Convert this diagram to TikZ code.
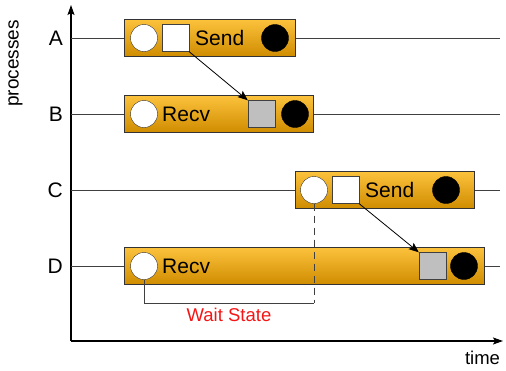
\documentclass[tikz,border=0pt]{standalone}
\usepackage{fontspec}
\setmainfont{Liberation Sans}
\usetikzlibrary{arrows.meta, positioning}
\definecolor{phasetop}{HTML}{FCC23C}
\definecolor{phasebot}{HTML}{CF8C00}
\definecolor{waitred}{HTML}{F51515}

\begin{document}
\begin{tikzpicture}[x=1pt, y=-1pt, font=\fontsize{21}{25}\selectfont,
  phase/.style={rectangle, draw=black!80, top color=phasetop, bottom color=phasebot, minimum height=37pt, inner sep=0pt, anchor=west},
  start/.style={circle, draw=black!80, fill=white, minimum size=27pt, inner sep=0pt},
  stop/.style={circle, draw=black, fill=black, minimum size=27pt, inner sep=0pt},
  msgout/.style={rectangle, draw=black!75, fill=white, minimum size=27pt, inner sep=0pt},
  msgin/.style={rectangle, draw=black!75, fill=black!25, minimum size=27pt, inner sep=0pt},
  caption/.style={anchor=west, inner sep=0pt},
  timeline/.style={draw=black!75, line width=0.8pt},
  axis/.style={draw, -{Stealth[length=10pt, width=7pt, inset=2pt]}, line width=1.4pt},
  line/.style={draw, -{Stealth[length=10pt, width=8pt, inset=2pt]}, line width=0.8pt}]

  \useasboundingbox (0,0) rectangle (506,370);

  % axes
  \coordinate (origin) at (71,341);
  \path [axis] (origin) -- (71,5);
  \path [axis] (origin) -- (503,341);
  \node [rotate=90, inner sep=0pt, font=\fontsize{19}{23}\selectfont] (ylabel) at (15.5,63.5) {processes};
  \node [font=\fontsize{18.5}{22}\selectfont] (xlabel) at (482.5,358) {time};

  % process lines
  \foreach \p/\y in {A/38, B/114, C/190, D/266} {
    \node [anchor=east, inner sep=0pt] (lbl\p) at (63,\y) {\p};
    \path [timeline] (origin |- lbl\p) -- ++(429,0);
  }

  % A: send
  \node [phase, minimum width=171pt] (phaseA) at (124,38) {};
  \node [start] (startA) at (144,38) {};
  \node [msgout] (outA) at (175.5,38) {};
  \node [caption] (textA) at (195,38) {Send};
  \node [stop] (stopA) at (275,38) {};

  % B: recv
  \node [phase, minimum width=189pt] (phaseB) at (124,114) {};
  \node [start] (startB) at (144,114) {};
  \node [caption] (textB) at (162,114) {Recv};
  \node [msgin] (inB) at (261.5,114) {};
  \node [stop] (stopB) at (295,114) {};

  % C: send
  \node [phase, minimum width=179pt] (phaseC) at (295,190) {};
  \node [start] (startC) at (314,190) {};
  \node [msgout] (outC) at (345.5,190) {};
  \node [caption] (textC) at (365,190) {Send};
  \node [stop] (stopC) at (446,190) {};

  % D: recv
  \node [phase, minimum width=360pt] (phaseD) at (124,266) {};
  \node [start] (startD) at (144,266) {};
  \node [caption] (textD) at (162,266) {Recv};
  \node [msgin] (inD) at (432.5,266) {};
  \node [stop] (stopD) at (464,266) {};

  % messages
  \path [line] (outA.south east) -- (inB.north west);
  \path [line] (outC.south east) -- (inD.north west);

  % wait state
  \coordinate (wait) at (0,303);
  \draw [black!75, line width=0.8pt, dashed, dash pattern=on 7pt off 5pt] (startC.south) -- (startC |- wait);
  \draw [black!75, line width=0.8pt] (startD.south) |- (startC |- wait)
    node [pos=0.75, below=1pt, text=waitred, font=\fontsize{18.5}{22}\selectfont] (waitlbl) {Wait State};
\end{tikzpicture}
\end{document}
